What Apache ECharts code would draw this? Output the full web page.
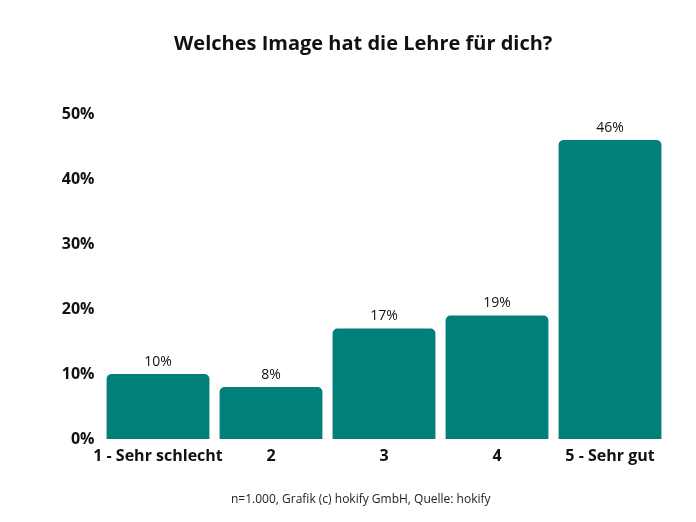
<!DOCTYPE html>
<html><head><meta charset="utf-8">
<script src="https://cdn.jsdelivr.net/npm/echarts@6/dist/echarts.min.js"></script>
<style>html,body{margin:0;padding:0;background:#fff}#c{width:696px;height:522px}</style>
</head><body><div id="c"></div>
<script>
const categories = ['1 - Sehr schlecht', '2', '3', '4', '5 - Sehr gut'];
const values = [10, 8, 17, 19, 46];
const title = 'Welches Image hat die Lehre für dich?';
const footer = 'n=1.000, Grafik (c) hokify GmbH, Quelle: hokify';
const FONT = 'Open Sans';
const chart = echarts.init(document.getElementById('c'));
chart.setOption({
  backgroundColor: '#fff',
  animation: false,
  title: [
    {text: title, left: 169, top: 29, textStyle: {fontFamily: FONT, fontSize: 20, fontWeight: 'bold', color: '#111'}},
    {text: footer, left: 226, top: 489, textStyle: {fontFamily: FONT, fontSize: 12, fontWeight: 'normal', color: '#222'}}
  ],
  grid: {left: 101.5, right: 29.5, top: 114, bottom: 83, containLabel: false},
  xAxis: {
    type: 'category', data: categories,
    axisLine: {show: false}, axisTick: {show: false},
    axisLabel: {fontFamily: FONT, fontSize: 16, fontWeight: 'bold', color: '#111', margin: 9, interval: 0}
  },
  yAxis: {
    type: 'value', min: 0, max: 50, interval: 10,
    splitLine: {show: false}, axisLine: {show: false}, axisTick: {show: false},
    axisLabel: {formatter: '{value}%', fontFamily: FONT, fontSize: 16, fontWeight: 'bold', color: '#111', margin: 7, padding: [10, 0, 0, 0]}
  },
  series: [{
    type: 'bar', data: values, barCategoryGap: '9%',
    itemStyle: {color: '#007f7b', borderRadius: [5, 5, 0, 0]},
    label: {show: true, position: 'top', formatter: '{c}%', fontFamily: FONT, fontSize: 14, color: '#111', distance: 5}
  }]
});
</script></body></html>
